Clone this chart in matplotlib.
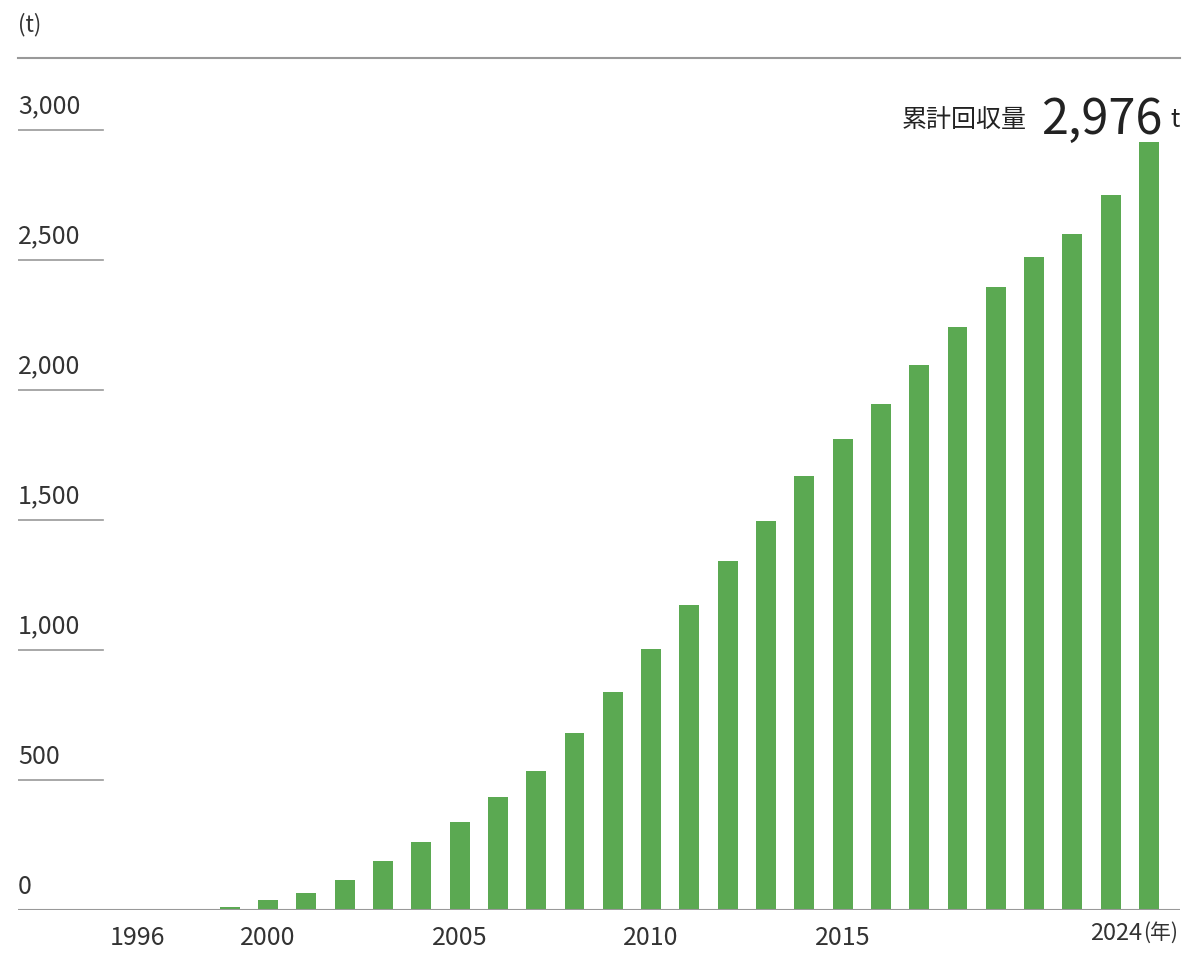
import matplotlib
matplotlib.use("Agg")
import matplotlib.pyplot as plt
import matplotlib.transforms as mtransforms

plt.rcParams['font.family'] = ['Noto Sans CJK JP', 'DejaVu Sans']

years = list(range(1998, 2024))
values = [3, 10, 38, 65, 115, 188, 262, 338, 435, 535, 681, 838, 1004, 1173,
          1342, 1496, 1669, 1812, 1946, 2096, 2242, 2396, 2512, 2600, 2750, 2954]
y_ticks = [0, 500, 1000, 1500, 2000, 2500, 3000]
y_labels = ["0", "500", "1,000", "1,500", "2,000", "2,500", "3,000"]
x_tick_pos = [1996.6, 2000, 2005, 2010, 2015]
x_labels = ["1996", "2000", "2005", "2010", "2015"]
total_label = "2,976"

W, H = 1200, 968
fig = plt.figure(figsize=(12, 9.68), dpi=100)
ax = fig.add_axes([18/W, (H-910)/H, (1180-18)/W, (910-58)/H])
green = "#5ba952"
ax.bar(years, values, width=0.52, color=green, zorder=2)
ax.set_xlim(1993.47, 2023.81)
ax.set_ylim(0, 3277)
for s in ax.spines.values():
    s.set_visible(False)
ax.set_xticks([]); ax.set_yticks([])
ax.axhline(0, color="#999999", lw=1.5, zorder=3)
ax.axhline(3277, color="#999999", lw=1.5, clip_on=False)

tr = mtransforms.blended_transform_factory(ax.transAxes, ax.transData)
for v, lab in zip(y_ticks, y_labels):
    if v > 0:
        ax.plot([0, 85/1162], [v, v], transform=tr, color="#999999", lw=1.2)
    ax.text(0.0, v + 40, lab, transform=tr, ha="left", va="bottom",
            fontsize=18, color="#333333")

trx = mtransforms.blended_transform_factory(ax.transData, ax.transAxes)
for p, lab in zip(x_tick_pos, x_labels):
    ax.text(p, -0.018, lab, transform=trx, ha="center", va="top", fontsize=18, color="#333333")
fig.text(1142/W, (H-922)/H, "2024", ha="right", va="top", fontsize=17, color="#333333")
fig.text(1143/W, (H-922)/H, "(年)", ha="left", va="top", fontsize=15, color="#333333")

fig.text(18/W, (H-25)/H, "(t)", ha="left", va="center", fontsize=16, color="#333333")
fig.text(1027/W, (H-120)/H, "累計回収量", ha="right", va="center", fontsize=18, color="#222222")
fig.text(1162/W, (H-120)/H, total_label, ha="right", va="center", fontsize=35, color="#222222")
fig.text(1180/W, (H-120)/H, "t", ha="right", va="center", fontsize=18, color="#222222")

fig.savefig("out.png", dpi=100)
